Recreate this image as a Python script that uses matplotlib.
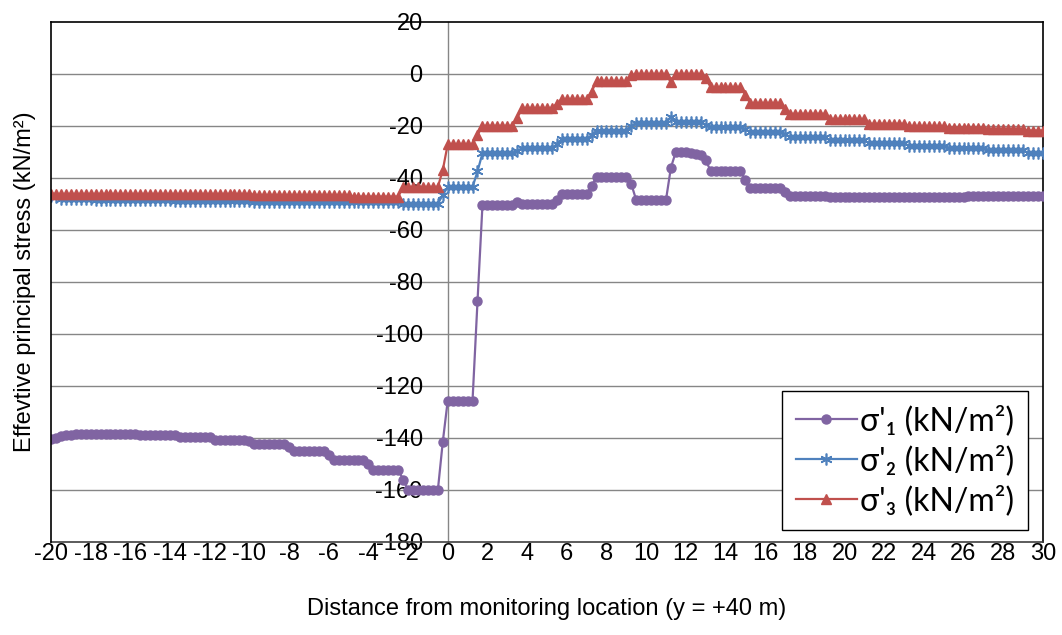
import matplotlib

matplotlib.use("Agg")
import matplotlib.pyplot as plt
import numpy as np
from matplotlib.font_manager import FontProperties

plt.rcParams["font.family"] = ["Liberation Sans", "DejaVu Sans"]
plt.rcParams["axes.unicode_minus"] = False

# sample positions along the line, every 0.25 m from -20 to +30
distance = np.arange(-20.0, 30.0 + 0.125, 0.25)

sigma1 = [
    -140.5, -139.9, -139.3, -139.0, -138.8, -138.6, -138.6, -138.6, -138.6, -138.6,
    -138.6, -138.6, -138.6, -138.6, -138.6, -138.6, -138.6, -138.6, -139.0, -139.0,
    -139.0, -139.0, -139.0, -139.0, -139.0, -139.0, -139.6, -139.6, -139.6, -139.6,
    -139.6, -139.6, -139.6, -140.7, -140.7, -140.7, -140.7, -140.7, -140.7, -140.7,
    -141.3, -142.3, -142.3, -142.3, -142.3, -142.3, -142.3, -142.3, -143.5, -145.0,
    -145.0, -145.0, -145.0, -145.0, -145.0, -145.0, -146.5, -148.3, -148.3, -148.3,
    -148.3, -148.3, -148.3, -148.3, -150.0, -152.2, -152.2, -152.2, -152.2, -152.2,
    -152.2, -156.0, -160.2, -160.2, -160.2, -160.2, -160.2, -160.2, -160.2, -141.5,
    -125.6, -125.6, -125.6, -125.6, -125.6, -125.6, -87.5, -50.5, -50.3, -50.3,
    -50.3, -50.3, -50.3, -50.3, -49.2, -50.2, -50.2, -50.2, -50.2, -50.2,
    -50.2, -50.2, -48.5, -46.2, -46.2, -46.2, -46.2, -46.2, -46.2, -43.0,
    -39.7, -39.7, -39.7, -39.7, -39.7, -39.7, -39.7, -42.3, -48.5, -48.5,
    -48.5, -48.5, -48.5, -48.5, -48.5, -36.0, -29.9, -30.0, -30.2, -30.4,
    -30.7, -31.2, -33.2, -37.2, -37.2, -37.2, -37.2, -37.2, -37.2, -37.2,
    -40.8, -44.0, -44.0, -44.0, -44.0, -44.0, -44.0, -44.0, -45.5, -46.8,
    -46.8, -46.8, -46.8, -46.8, -46.8, -46.8, -46.8, -47.4, -47.4, -47.4,
    -47.4, -47.4, -47.4, -47.4, -47.4, -47.4, -47.4, -47.4, -47.4, -47.4,
    -47.4, -47.4, -47.4, -47.4, -47.4, -47.4, -47.4, -47.4, -47.4, -47.4,
    -47.4, -47.4, -47.4, -47.4, -47.4, -46.8, -46.8, -46.8, -46.8, -46.8,
    -46.8, -46.8, -46.8, -46.8, -46.8, -46.8, -46.8, -46.8, -46.8, -46.8,
    -46.8,
]

sigma2 = [
    -47.0, -47.5, -48.0, -48.0, -48.0, -48.0, -48.0, -48.0, -48.0, -48.3,
    -48.3, -48.3, -48.3, -48.3, -48.3, -48.3, -48.3, -48.3, -48.3, -48.3,
    -48.3, -48.3, -48.3, -48.3, -48.3, -48.7, -48.7, -48.7, -48.7, -48.7,
    -48.7, -48.7, -48.7, -48.7, -48.7, -48.7, -48.7, -48.7, -48.7, -48.7,
    -48.7, -49.1, -49.1, -49.1, -49.1, -49.1, -49.1, -49.1, -49.1, -49.1,
    -49.1, -49.1, -49.1, -49.1, -49.1, -49.1, -49.1, -49.4, -49.4, -49.4,
    -49.4, -49.4, -49.4, -49.4, -49.4, -49.4, -49.4, -49.4, -49.4, -49.2,
    -49.2, -50.0, -50.0, -50.0, -50.0, -50.0, -50.0, -50.0, -50.0, -46.5,
    -43.5, -43.5, -43.5, -43.5, -43.5, -43.5, -37.5, -30.5, -30.5, -30.5,
    -30.5, -30.5, -30.5, -30.5, -29.5, -28.6, -28.6, -28.6, -28.6, -28.6,
    -28.6, -28.6, -27.0, -25.1, -25.1, -25.1, -25.1, -25.1, -25.1, -23.5,
    -21.8, -21.8, -21.8, -21.8, -21.8, -21.8, -21.8, -20.0, -18.8, -18.8,
    -18.8, -18.8, -18.8, -18.8, -18.8, -16.4, -18.4, -18.4, -18.4, -18.4,
    -18.4, -18.4, -19.5, -20.4, -20.4, -20.4, -20.4, -20.4, -20.4, -20.4,
    -21.3, -22.3, -22.3, -22.3, -22.3, -22.3, -22.3, -22.3, -23.2, -24.1,
    -24.1, -24.1, -24.1, -24.1, -24.1, -24.1, -24.1, -25.6, -25.6, -25.6,
    -25.6, -25.6, -25.6, -25.6, -25.6, -26.7, -26.7, -26.7, -26.7, -26.7,
    -26.7, -26.7, -26.7, -27.6, -27.6, -27.6, -27.6, -27.6, -27.6, -27.6,
    -27.6, -28.5, -28.5, -28.5, -28.5, -28.5, -28.5, -28.5, -28.5, -29.4,
    -29.4, -29.4, -29.4, -29.4, -29.4, -29.4, -29.4, -30.3, -30.3, -30.3,
    -30.3,
]

sigma3 = [
    -46.0, -46.2, -46.2, -46.2, -46.2, -46.2, -46.2, -46.2, -46.2, -46.2,
    -46.2, -46.2, -46.2, -46.2, -46.2, -46.2, -46.2, -46.2, -46.2, -46.2,
    -46.2, -46.2, -46.2, -46.2, -46.2, -46.2, -46.2, -46.2, -46.2, -46.2,
    -46.2, -46.2, -46.2, -46.2, -46.2, -46.2, -46.2, -46.2, -46.2, -46.2,
    -46.2, -46.6, -46.6, -46.6, -46.6, -46.6, -46.6, -46.6, -46.6, -46.6,
    -46.6, -46.6, -46.6, -46.6, -46.6, -46.6, -46.6, -46.6, -46.6, -46.6,
    -46.6, -47.2, -47.2, -47.2, -47.2, -47.2, -47.2, -47.2, -47.2, -47.2,
    -47.2, -43.5, -43.5, -43.5, -43.5, -43.5, -43.5, -43.5, -43.5, -37.0,
    -27.0, -27.0, -27.0, -27.0, -27.0, -27.0, -23.5, -20.0, -20.0, -20.0,
    -20.0, -20.0, -20.0, -20.0, -17.0, -13.2, -13.2, -13.2, -13.2, -13.2,
    -13.2, -13.2, -11.4, -9.7, -9.7, -9.7, -9.7, -9.7, -9.7, -6.8,
    -2.9, -2.9, -2.9, -2.9, -2.9, -2.9, -2.9, -0.4, -0.2, -0.2,
    -0.2, -0.2, -0.2, -0.2, -0.2, -3.2, -0.2, -0.2, -0.2, -0.2,
    -0.2, -0.2, -1.5, -5.1, -5.1, -5.1, -5.1, -5.1, -5.1, -5.1,
    -8.0, -11.3, -11.3, -11.3, -11.3, -11.3, -11.3, -11.3, -13.5, -15.4,
    -15.4, -15.4, -15.4, -15.4, -15.4, -15.4, -15.4, -17.4, -17.4, -17.4,
    -17.4, -17.4, -17.4, -17.4, -17.4, -19.2, -19.2, -19.2, -19.2, -19.2,
    -19.2, -19.2, -19.2, -20.2, -20.2, -20.2, -20.2, -20.2, -20.2, -20.2,
    -20.2, -20.8, -20.8, -20.8, -20.8, -20.8, -20.8, -20.8, -20.8, -21.3,
    -21.3, -21.3, -21.3, -21.3, -21.3, -21.3, -21.3, -21.8, -21.8, -21.8,
    -21.8,
]

labels = ["σ'₁ (kN/m²)", "σ'₂ (kN/m²)", "σ'₃ (kN/m²)"]
x_ticks = list(range(-20, 31, 2))
y_ticks = list(range(-180, 21, 20))

PURPLE = "#8064A2"
BLUE = "#4F81BD"
RED = "#C0504D"
GRID = "#868686"

fig = plt.figure(figsize=(10.62, 6.35), dpi=100)
ax = fig.add_axes([0.048, 0.1465, 0.934, 0.819])

ax.plot(distance, sigma1, color=PURPLE, lw=1.6, marker="o", ms=6.5,
        mec=PURPLE, mfc=PURPLE, label=labels[0], zorder=3)
ax.plot(distance, sigma2, color=BLUE, lw=1.6, marker=(6, 2, 0), ms=8.5,
        mew=1.2, mec=BLUE, label=labels[1], zorder=4)
ax.plot(distance, sigma3, color=RED, lw=1.6, marker="^", ms=7,
        mec=RED, mfc=RED, label=labels[2], zorder=5)

ax.set_xlim(-20, 30)
ax.set_ylim(-180, 20)
ax.set_xticks(x_ticks)
ax.set_xticklabels([str(v) for v in x_ticks])
ax.set_yticks(y_ticks)
ax.set_yticklabels([str(v) for v in y_ticks])

# horizontal gridlines only
for v in y_ticks[1:-1]:
    ax.axhline(v, color=GRID, lw=1.0, zorder=1)

# value axis crosses at x = 0, plot area framed
ax.spines["left"].set_position(("data", 0))
ax.spines["left"].set_color(GRID)
ax.spines["left"].set_linewidth(1.0)
ax.spines["left"].set_zorder(1)
for side in ("top", "right"):
    ax.spines[side].set_color("black")
    ax.spines[side].set_linewidth(1.2)
ax.spines["bottom"].set_color("#404040")
ax.spines["bottom"].set_linewidth(1.2)
ax.axvline(-20, color="black", lw=1.2, clip_on=False, zorder=6)

ax.tick_params(axis="y", length=0, pad=18, labelsize=17)
ax.tick_params(axis="x", length=0, pad=1, labelsize=17)

ax.set_xlabel("Distance from monitoring location (y = +40 m)", fontsize=17)
ax.xaxis.set_label_coords(0.5, -0.108)
ax.set_ylabel("Effevtive principal stress (kN/m²)", fontsize=17)
ax.yaxis.set_label_coords(-0.015, 0.5)

leg_font = FontProperties(family=["Lato", "Noto Sans", "DejaVu Sans"], size=23)
leg = ax.legend(loc="lower right", bbox_to_anchor=(0.985, 0.023), borderaxespad=0,
                prop=leg_font, frameon=True, fancybox=False, framealpha=1,
                edgecolor="black", handlelength=1.9, handletextpad=0.12,
                borderpad=0.42, labelspacing=0.3)
leg.get_frame().set_linewidth(1.0)
leg.set_zorder(10)

fig.savefig("out.png", dpi=100)
